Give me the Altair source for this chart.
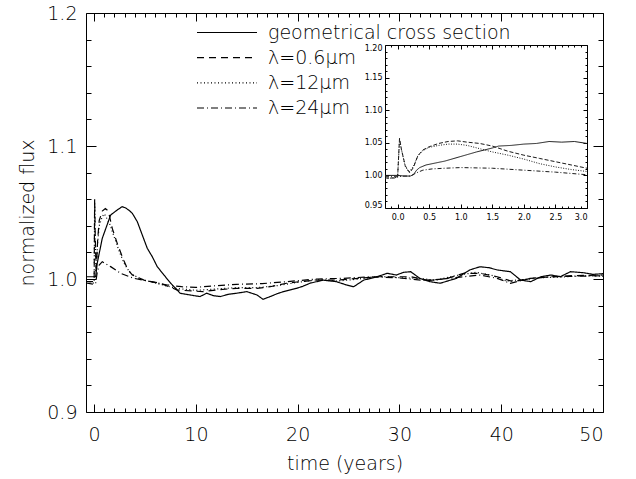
import altair as alt
import pandas as pd

# ---------------- data ----------------
series_names = ["geometrical cross section", "λ=0.6μm", "λ=12μm", "λ=24μm"]

# main panel (time in years, normalized flux)
geo_t = [-0.8, 0.15, 0.3, 0.8, 1.62, 2.27, 2.76, 3.1, 3.45, 3.75, 4.24, 4.73, 5.22, 5.71, 6.2, 6.86, 7.52, 8.0, 8.44,
         9.42, 10.4, 11.06, 11.7, 12.4, 13.2, 14.0, 15.0, 16.0, 16.6, 17.3, 18.0, 18.6, 19.9, 20.5, 21.2, 22.5, 23.2,
         23.8, 24.8, 25.5, 26.5, 27.8, 28.8, 29.7, 30.4, 31.1, 32.0, 33.0, 34.0, 35.6, 36.9, 37.9, 38.8, 39.6, 40.9,
         41.9, 42.9, 43.9, 44.9, 45.8, 46.8, 48.1, 49.0, 50.0]
geo_f = [1.0017, 1.0017, 1.0118, 1.0306, 1.0481, 1.0519, 1.0544, 1.0534, 1.0515, 1.0494, 1.0431, 1.0331, 1.0231,
         1.0168, 1.0093, 1.003, 0.9968, 0.993, 0.9893, 0.988, 0.9868, 0.9893, 0.9875, 0.9868, 0.9885, 0.9893, 0.9905,
         0.988, 0.9847, 0.9868, 0.989, 0.9905, 0.993, 0.9945, 0.9968, 0.9992, 0.9985, 0.998, 0.9955, 0.9942, 0.9992,
         1.0017, 1.0043, 1.003, 1.005, 1.0055, 1.0005, 0.998, 0.9968, 1.0005, 1.0068, 1.0092, 1.0085, 1.0068, 1.0055,
         0.9992, 0.998, 1.0017, 1.003, 1.0017, 1.0055, 1.0047, 1.0035, 1.004]

w06_t = [-0.8, 0.0, 0.05, 0.1, 0.2, 0.35, 0.5, 0.8, 1.1, 1.4, 1.78, 2.27, 2.76, 3.25, 3.75, 4.9, 6.5, 8.17, 10.7,
         12.3, 14.0, 16.0, 17.3, 18.9, 20.2, 21.9, 23.8, 26.1, 27.8, 29.4, 31.1, 32.7, 34.5, 36.3, 37.9, 39.6, 41.2,
         42.9, 44.9, 47.0, 50.0]
w06_f = [0.998, 0.998, 1.06, 1.035, 1.004, 1.03, 1.044, 1.051, 1.053, 1.051, 1.0381, 1.0268, 1.0168, 1.008, 1.003,
         0.9992, 0.9968, 0.9917, 0.9905, 0.992, 0.993, 0.993, 0.9942, 0.9968, 0.998, 0.9992, 0.9992, 1.0005, 1.0017,
         1.0017, 1.0017, 0.9992, 1.0, 1.0043, 1.0043, 1.0017, 0.998, 1.0005, 1.0017, 1.0025, 1.003]

w12_t = [-0.8, 0.0, 0.05, 0.1, 0.18, 0.35, 0.5, 0.8, 1.0, 1.5, 2.0, 2.5, 3.0, 3.5, 4.5, 6.0, 8.0, 10.0, 12.0, 14.0,
         16.0, 18.0, 20.0, 22.0, 24.0, 26.0, 28.0, 30.0, 32.0, 33.5, 35.5, 37.5, 39.0, 40.5, 42.0, 44.0, 46.0, 48.0,
         50.0]
w12_f = [0.997, 0.997, 1.058, 1.033, 1.005, 1.028, 1.04, 1.047, 1.049, 1.042, 1.031, 1.02, 1.011, 1.005, 1.0, 0.997,
         0.993, 0.9915, 0.9925, 0.9935, 0.9935, 0.995, 0.9975, 0.9995, 0.9985, 1.0, 1.002, 1.001, 1.0005, 0.999,
         1.0025, 1.005, 1.003, 0.9985, 0.9995, 1.001, 1.0015, 1.0025, 1.002]

w24_t = [-0.8, 0.0, 0.15, 0.3, 0.5, 0.8, 1.62, 2.6, 3.9, 5.55, 7.2, 8.6, 10.0, 12.0, 14.0, 16.5, 18.9, 21.9, 24.5,
         27.1, 29.7, 32.7, 36.3, 37.9, 39.6, 40.9, 42.9, 44.9, 47.0, 50.0]
w24_f = [0.997, 0.996, 0.997, 1.005, 1.0105, 1.013, 1.0093, 1.0043, 1.0005, 0.998, 0.9955, 0.9942, 0.9937, 0.995,
         0.996, 0.9965, 0.998, 1.0, 1.0005, 1.0017, 1.001, 0.9987, 1.0017, 1.003, 1.0005, 0.9968, 1.0005, 1.0017,
         1.002, 1.0025]

# inset panel (first three years)
in_geo_t = [-0.2, 0.0, 0.1, 0.2, 0.25, 0.3, 0.35, 0.45, 0.6, 0.75, 1.0, 1.25, 1.5, 1.6, 1.8, 2.0, 2.2, 2.4, 2.6, 2.8, 3.0]
in_geo_f = [1.0, 1.0, 0.999, 0.999, 1.001, 1.008, 1.012, 1.016, 1.019, 1.022, 1.029, 1.036, 1.042, 1.045, 1.046,
            1.048, 1.049, 1.052, 1.051, 1.052, 1.049]
in_w06_t = [-0.2, -0.05, 0.0, 0.03, 0.06, 0.12, 0.19, 0.25, 0.32, 0.4, 0.5, 0.65, 0.8, 0.95, 1.1, 1.3, 1.5, 1.75,
            2.0, 2.25, 2.5, 2.75, 3.0]
in_w06_f = [0.996, 0.996, 0.998, 1.057, 1.04, 1.015, 1.004, 1.012, 1.03, 1.039, 1.044, 1.049, 1.052, 1.053, 1.051,
            1.049, 1.045, 1.037, 1.031, 1.026, 1.021, 1.016, 1.011]
in_w12_t = [-0.2, 0.0, 0.03, 0.06, 0.12, 0.18, 0.25, 0.32, 0.4, 0.5, 0.65, 0.8, 0.95, 1.1, 1.3, 1.5, 1.75, 2.0, 2.25,
            2.5, 2.75, 3.0]
in_w12_f = [0.995, 0.997, 1.055, 1.04, 1.014, 1.005, 1.014, 1.03, 1.038, 1.043, 1.046, 1.048, 1.048, 1.046, 1.041,
            1.036, 1.031, 1.025, 1.018, 1.013, 1.009, 1.006]
in_w24_t = [-0.2, 0.0, 0.1, 0.2, 0.3, 0.4, 0.55, 0.75, 1.0, 1.5, 2.0, 2.5, 3.0]
in_w24_f = [0.998, 0.998, 0.999, 0.999, 1.004, 1.008, 1.01, 1.011, 1.012, 1.011, 1.008, 1.005, 1.001]

# axes
x_domain = [-0.8, 50]
y_domain = [0.9, 1.2]
x_labels = [0, 10, 20, 30, 40, 50]
x_ticks = list(range(0, 51))
y_labels = [0.9, 1.0, 1.1, 1.2]
y_ticks = [0.90, 0.92, 0.94, 0.96, 0.98, 1.00, 1.02, 1.04, 1.06, 1.08, 1.10, 1.12, 1.14, 1.16, 1.18, 1.20]

in_x_domain = [-0.2, 3.0]
in_y_domain = [0.95, 1.20]
in_x_labels = [0.0, 0.5, 1.0, 1.5, 2.0, 2.5, 3.0]
in_x_ticks = [-0.1, 0.0, 0.1, 0.2, 0.3, 0.4, 0.5, 0.6, 0.7, 0.8, 0.9, 1.0, 1.1, 1.2, 1.3, 1.4, 1.5, 1.6, 1.7, 1.8,
              1.9, 2.0, 2.1, 2.2, 2.3, 2.4, 2.5, 2.6, 2.7, 2.8, 2.9, 3.0]
in_y_labels = [0.95, 1.00, 1.05, 1.10, 1.15, 1.20]
in_y_ticks = [0.95, 0.96, 0.97, 0.98, 0.99, 1.00, 1.01, 1.02, 1.03, 1.04, 1.05, 1.06, 1.07, 1.08, 1.09, 1.10,
              1.11, 1.12, 1.13, 1.14, 1.15, 1.16, 1.17, 1.18, 1.19, 1.20]

# ---------------- layout / style ----------------
W, H = 517, 399
IN_X0, IN_X1 = 299, 501      # inset frame, pixels inside plot area
IN_Y0, IN_Y1 = 32, 195
FONT = "DejaVu Sans"

main_dash = [[1, 0], [7, 5], [1, 2.5], [7, 3, 1, 3]]
inset_dash = [[1, 0], [4, 2], [1, 1.5], [4, 2, 1, 2]]

main_series = [(geo_t, geo_f), (w06_t, w06_f), (w12_t, w12_f), (w24_t, w24_f)]
inset_series = [(in_geo_t, in_geo_f), (in_w06_t, in_w06_f), (in_w12_t, in_w12_f), (in_w24_t, in_w24_f)]

mx = alt.Scale(domain=x_domain, nice=False, zero=False)
my = alt.Scale(domain=y_domain, nice=False, zero=False)
ix = alt.Scale(domain=in_x_domain, nice=False, zero=False, range=[IN_X0, IN_X1])
iy = alt.Scale(domain=in_y_domain, nice=False, zero=False, range=[IN_Y1, IN_Y0])

layers = []

# main curves
for (t, f), d in zip(main_series, main_dash):
    df = pd.DataFrame({"t": t, "f": f, "i": range(len(t))})
    layers.append(
        alt.Chart(df).mark_line(color="black", strokeWidth=1.2, strokeDash=d).encode(
            x=alt.X("t:Q", scale=mx, axis=None),
            y=alt.Y("f:Q", scale=my, axis=None),
            order="i:Q",
        )
    )

# inset curves
for (t, f), d in zip(inset_series, inset_dash):
    df = pd.DataFrame({"t": t, "f": f, "i": range(len(t))})
    layers.append(
        alt.Chart(df).mark_line(color="#1a1a1a", strokeWidth=1.0, strokeDash=d).encode(
            x=alt.X("t:Q", scale=ix, axis=None),
            y=alt.Y("f:Q", scale=iy, axis=None),
            order="i:Q",
        )
    )

# legend (drawn inside the plot)
leg_scale = alt.Scale(domain=[0, 3], range=[19.5, 95], nice=False, zero=False)
for k, d in enumerate(main_dash):
    df = pd.DataFrame({"row": [k]})
    layers.append(
        alt.Chart(df).mark_rule(color="black", strokeWidth=1.2, strokeDash=d).encode(
            x=alt.value(111), x2=alt.value(171),
            y=alt.Y("row:Q", scale=leg_scale, axis=None),
        )
    )
leg_df = pd.DataFrame({"row": [0, 1, 2, 3], "name": series_names})
layers.append(
    alt.Chart(leg_df).mark_text(align="left", baseline="middle", font=FONT, fontSize=19,
                                fontWeight=200, color="black").encode(
        x=alt.value(182),
        y=alt.Y("row:Q", scale=leg_scale, axis=None),
        text="name:N",
    )
)


def xaxis_layer(scale, dom, axis):
    df = pd.DataFrame({"v": dom})
    return alt.Chart(df).mark_point(opacity=0).encode(x=alt.X("v:Q", scale=scale, axis=axis))


def yaxis_layer(scale, dom, axis):
    df = pd.DataFrame({"v": dom})
    return alt.Chart(df).mark_point(opacity=0).encode(y=alt.Y("v:Q", scale=scale, axis=axis))


x_major = "datum.value % 10 === 0"
y_major = "abs(datum.value * 10 - round(datum.value * 10)) < 0.001"
ix_major = "abs(datum.value * 2 - round(datum.value * 2)) < 0.001"
iy_major = "abs(datum.value * 20 - round(datum.value * 20)) < 0.001"


def cond(test, big, small):
    return {"condition": {"test": test, "value": big}, "value": small}


# main x axis: labels + inward ticks bottom & top
layers.append(xaxis_layer(mx, x_domain, alt.Axis(
    orient="bottom", values=x_labels, ticks=False, domain=False, grid=False, tickSize=0,
    labelFontSize=19, labelPadding=13, labelFontWeight=200, title="time (years)", titleFontSize=19,
    titleFontWeight=200, titlePadding=10)))
layers.append(xaxis_layer(mx, x_domain, alt.Axis(
    orient="top", offset=-H, values=x_ticks, labels=False, domain=False, grid=False, title=None,
    tickSize=cond(x_major, 8, 4), tickWidth=1)))
layers.append(xaxis_layer(mx, x_domain, alt.Axis(
    orient="bottom", offset=-H, values=x_ticks, labels=False, domain=False, grid=False, title=None,
    tickSize=cond(x_major, 8, 4), tickWidth=1)))

# main y axis
layers.append(yaxis_layer(my, y_domain, alt.Axis(
    orient="left", values=y_labels, format=".1f", ticks=False, domain=False, grid=False, tickSize=0,
    labelFontSize=19, labelPadding=9, labelFontWeight=200, title="normalized flux", titleFontSize=19,
    titleFontWeight=200, titlePadding=9)))
layers.append(yaxis_layer(my, y_domain, alt.Axis(
    orient="right", offset=-W, values=y_ticks, labels=False, domain=False, grid=False, title=None,
    tickSize=cond(y_major, 10, 5), tickWidth=1)))
layers.append(yaxis_layer(my, y_domain, alt.Axis(
    orient="left", offset=-W, values=y_ticks, labels=False, domain=False, grid=False, title=None,
    tickSize=cond(y_major, 10, 5), tickWidth=1)))

# inset x axis
layers.append(xaxis_layer(ix, in_x_domain, alt.Axis(
    orient="bottom", offset=-(H - IN_Y1), values=in_x_labels, format=".1f", ticks=False, domain=False,
    grid=False, tickSize=0, labelFontSize=8, labelPadding=5, title=None)))
layers.append(xaxis_layer(ix, in_x_domain, alt.Axis(
    orient="top", offset=-IN_Y1, values=in_x_ticks, labels=False, domain=True, domainWidth=1, grid=False,
    title=None, tickSize=cond(ix_major, 4, 2), tickWidth=1)))
layers.append(xaxis_layer(ix, in_x_domain, alt.Axis(
    orient="bottom", offset=-(H - IN_Y0), values=in_x_ticks, labels=False, domain=True, domainWidth=1,
    grid=False, title=None, tickSize=cond(ix_major, 4, 2), tickWidth=1)))

# inset y axis
layers.append(yaxis_layer(iy, in_y_domain, alt.Axis(
    orient="left", offset=-IN_X0, values=in_y_labels, format=".2f", ticks=False, domain=False, grid=False,
    tickSize=0, labelFontSize=8, labelPadding=3, labelFlush=True, labelFlushOffset=1, title=None)))
layers.append(yaxis_layer(iy, in_y_domain, alt.Axis(
    orient="right", offset=-(W - IN_X0), values=in_y_ticks, labels=False, domain=True, domainWidth=1,
    grid=False, title=None, tickSize=cond(iy_major, 4, 2), tickWidth=1)))
layers.append(yaxis_layer(iy, in_y_domain, alt.Axis(
    orient="left", offset=-IN_X1, values=in_y_ticks, labels=False, domain=True, domainWidth=1, grid=False,
    title=None, tickSize=cond(iy_major, 4, 2), tickWidth=1)))

chart = alt.layer(*layers).resolve_scale(
    x="independent", y="independent"
).resolve_axis(
    x="independent", y="independent"
).properties(
    width=W, height=H,
    autosize=alt.AutoSizeParams(type="none"),
    padding={"left": 86, "top": 13, "right": 636 - 86 - W, "bottom": 479 - 13 - H},
    background="white",
).configure_view(
    stroke="black", strokeWidth=1
).configure_axis(
    labelFont=FONT, titleFont=FONT, labelColor="black", titleColor="black",
    tickColor="black", domainColor="black",
)

chart.save("out.html", embed_options={"renderer": "svg", "actions": False})
